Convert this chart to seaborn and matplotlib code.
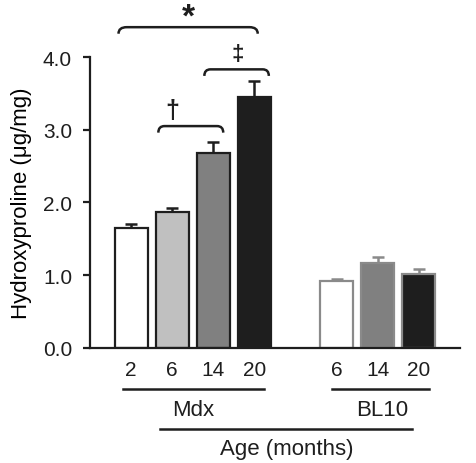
import numpy as np
import pandas as pd
import matplotlib
matplotlib.use("Agg")
import matplotlib.pyplot as plt
from matplotlib.path import Path
from matplotlib.patches import PathPatch
import seaborn as sns

# ─────────────────────────────────────────────
# DATOS
# ─────────────────────────────────────────────
mdx_age = ["2", "6", "14", "20"]
mdx_mean = [1.65, 1.87, 2.68, 3.45]
mdx_sem = [0.05, 0.05, 0.15, 0.22]

bl10_age = ["6", "14", "20"]
bl10_mean = [0.92, 1.17, 1.02]
bl10_sem = [0.03, 0.08, 0.07]

groups = ["Mdx", "BL10"]
y_ticks = [0.0, 1.0, 2.0, 3.0, 4.0]

# ─────────────────────────────────────────────
# TABLA
# ─────────────────────────────────────────────
mdx_pos = list(range(len(mdx_age)))
bl10_pos = [len(mdx_age) + 1 + i for i in range(len(bl10_age))]

df = pd.DataFrame({
    "pos": mdx_pos + bl10_pos,
    "age": mdx_age + bl10_age,
    "mean": mdx_mean + bl10_mean,
    "sem": mdx_sem + bl10_sem,
    "group": [groups[0]] * len(mdx_age) + [groups[1]] * len(bl10_age),
})
df["key"] = df["group"] + " " + df["age"]

fills = {"2": "white", "6": "#c0c0c0", "14": "#808080", "20": "#1e1e1e"}
fills_bl = {"6": "white", "14": "#808080", "20": "#1e1e1e"}
palette = {}
for _, r in df.iterrows():
    palette[r["key"]] = (fills if r["group"] == "Mdx" else fills_bl)[r["age"]]

edge_mdx = "#1e1e1e"
edge_bl = "#8a8a8a"

plt.rcParams["font.family"] = ["Liberation Sans", "DejaVu Sans"]
plt.rcParams["text.color"] = "#1e1e1e"

fig = plt.figure(figsize=(4.77, 4.64), dpi=100)
ax = fig.add_axes([0.189, 0.248, 0.775, 0.627])

sns.barplot(data=df, x="pos", y="mean", hue="key", palette=palette,
            native_scale=True, dodge=False, width=0.8, errorbar=None,
            legend=False, ax=ax, zorder=2)

for patch in ax.patches:
    cx = patch.get_x() + patch.get_width() / 2
    is_mdx = cx < len(mdx_age)
    patch.set_edgecolor(edge_mdx if is_mdx else edge_bl)
    patch.set_linewidth(1.6)

# barras de error (solo hacia arriba)
for sub, col in [(df[df.group == "Mdx"], edge_mdx), (df[df.group == "BL10"], edge_bl)]:
    ax.errorbar(sub["pos"], sub["mean"],
                yerr=[np.zeros(len(sub)), sub["sem"]],
                fmt="none", ecolor=col, elinewidth=1.8, capsize=4.5,
                capthick=1.8, zorder=1)

ax.set_xlim(-1, 8)
ax.set_ylim(0, 4.0)
ax.set_yticks(y_ticks)
ax.set_yticklabels([f"{v:.1f}" for v in y_ticks], fontsize=15)
ax.set_xticks(df["pos"])
ax.set_xticklabels(df["age"], fontsize=15)
ax.tick_params(axis="x", length=0, pad=9, colors="#1e1e1e")
ax.tick_params(axis="y", length=5, width=1.6, direction="out", pad=8,
               colors="#1e1e1e")
ax.set_xlabel("")
ax.set_ylabel("Hydroxyproline (μg/mg)", fontsize=16, labelpad=8)

for s in ["top", "right"]:
    ax.spines[s].set_visible(False)
for s in ["left", "bottom"]:
    ax.spines[s].set_linewidth(1.6)
    ax.spines[s].set_color("#1e1e1e")

# lineas de grupo bajo el eje
tr = ax.get_xaxis_transform()
ax.plot([-0.21, 3.23], [-0.141, -0.141], color="#1e1e1e", lw=1.8,
        transform=tr, clip_on=False)
ax.plot([4.88, 7.25], [-0.141, -0.141], color="#1e1e1e", lw=1.8,
        transform=tr, clip_on=False)
ax.text(1.5, -0.21, groups[0], transform=tr, ha="center", va="center", fontsize=16)
ax.text(6.1, -0.21, groups[1], transform=tr, ha="center", va="center", fontsize=16)
ax.plot([0.71, 6.84], [-0.278, -0.278], color="#1e1e1e", lw=1.8,
        transform=tr, clip_on=False)
ax.text(3.79, -0.345, "Age (months)", transform=tr, ha="center", va="center",
        fontsize=16)


# ─────────────────────────────────────────────
# LLAVES DE SIGNIFICANCIA
# ─────────────────────────────────────────────
def bracket(x0, x1, y, h, r, label, lx, ly, size, va="center"):
    verts = [(x0, y - h), (x0, y), (x0 + r, y),
             (x1 - r, y), (x1, y), (x1, y - h)]
    codes = [Path.MOVETO, Path.CURVE3, Path.CURVE3,
             Path.LINETO, Path.CURVE3, Path.CURVE3]
    ax.add_patch(PathPatch(Path(verts, codes), fill=False, lw=1.8,
                           edgecolor="#1e1e1e", clip_on=False))
    ax.text(lx, ly, label, ha="center", va=va, fontsize=size,
            fontweight="bold", clip_on=False)


bracket(-0.31, 3.08, 4.41, 0.09, 0.2, "*", 1.39, 4.43, 24, va="baseline")
bracket(1.78, 3.35, 3.83, 0.09, 0.15, "‡", 2.58, 4.05, 16)
bracket(0.66, 2.24, 3.05, 0.09, 0.15, "†", 1.0, 3.27, 18)

plt.savefig("out.png", dpi=100)
